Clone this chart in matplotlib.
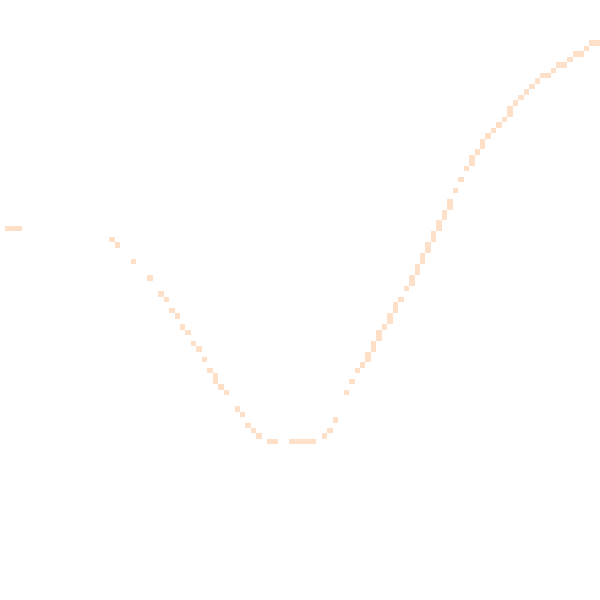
"""
Pixel-grid rendering of a dip-and-recover curve.

Each lit cell of a 110 x 110 grid is listed by column and row; the grid is
drawn with imshow so the cells keep their blocky look.
"""

import numpy as np
import matplotlib
matplotlib.use("Agg")
import matplotlib.pyplot as plt
from matplotlib.colors import ListedColormap

GRID_SIZE = 110
CELL_COLOR = "#fee0c9"

# lit cells, left to right (column index, row index from the top)
cols = [
    1, 2, 3,
    20, 21, 24, 27, 29, 30, 31, 32, 33, 34, 35, 36, 37, 38, 39, 39, 40, 41,
    43, 44, 45, 46, 47, 49, 50, 53, 54, 55, 56, 57, 59, 60, 61,
    63, 64, 65, 66, 67, 67, 68, 68, 69, 69, 70, 71, 71, 72, 72, 73, 74,
    75, 75, 76, 76, 77, 77, 78, 78, 79, 79, 80, 80, 81, 81, 82, 82,
    83, 84, 85, 86, 86, 87, 88, 88, 89, 90, 91, 92, 93, 93,
    94, 95, 96, 97, 98, 99, 100, 101, 102, 103, 104, 105, 106, 107, 108, 109,
]
rows = [
    41, 41, 41,
    43, 44, 47, 50, 53, 54, 56, 57, 59, 60, 62, 63, 65, 67, 68, 69, 70, 71,
    74, 75, 77, 78, 79, 80, 80, 80, 80, 80, 80, 80, 79, 78, 76,
    71, 69, 67, 66, 64, 65, 62, 63, 60, 61, 59, 57, 58, 55, 56, 54, 52,
    50, 51, 48, 49, 46, 47, 44, 45, 42, 43, 40, 41, 38, 39, 36, 37,
    34, 32, 30, 28, 29, 27, 25, 26, 24, 23, 22, 21, 19, 20,
    18, 17, 16, 15, 14, 13, 13, 12, 11, 11, 10, 9, 9, 8, 7, 7,
]


def build_grid(col_idx, row_idx, size):
    """Return a size x size array with NaN everywhere except the lit cells."""
    grid = np.full((size, size), np.nan)
    grid[np.asarray(row_idx), np.asarray(col_idx)] = 1.0
    return grid


def main():
    grid = build_grid(cols, rows, GRID_SIZE)

    fig = plt.figure(figsize=(6, 6), dpi=100)
    ax = fig.add_axes([0, 0, 1, 1])

    cell = 600 / GRID_SIZE
    y_offset = cell / 2  # grid sits half a cell lower than the frame
    ax.imshow(
        grid,
        cmap=ListedColormap([CELL_COLOR]),
        interpolation="nearest",
        extent=(0, GRID_SIZE * cell, y_offset + GRID_SIZE * cell, y_offset),
        aspect="auto",
    )

    ax.set_xlim(0, 600)
    ax.set_ylim(600, 0)
    ax.axis("off")

    fig.savefig("out.png", dpi=100, facecolor="white")
    plt.close(fig)


if __name__ == "__main__":
    main()
